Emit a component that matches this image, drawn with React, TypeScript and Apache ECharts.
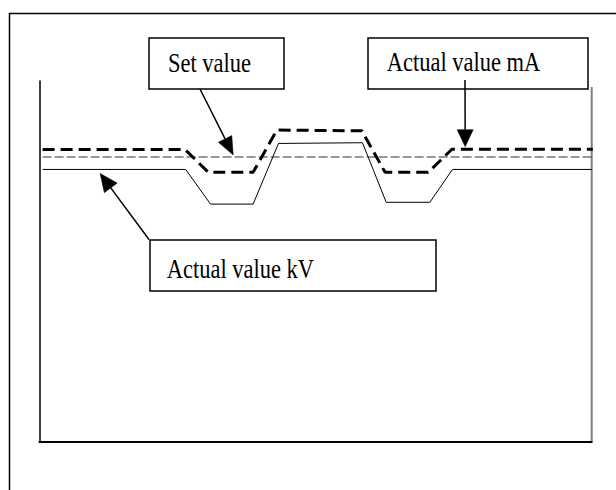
import React, { useEffect, useRef } from "react";
import * as echarts from "echarts";

// Time axis (0..100 % of run) and signal level (0..100 % of plot height)
const setValueX = [0.6, 100];
const setValueY = [78.95, 78.95];

const actualMaX = [0.6, 26.4, 30.6, 38.7, 43.0, 58.4, 62.6, 70.4, 74.7, 100.2];
const actualMaY = [81.0, 81.0, 74.7, 74.7, 86.4, 86.2, 74.7, 74.7, 81.1, 81.1];

const actualKvX = [0.6, 26.5, 31.0, 38.7, 43.3, 58.5, 62.8, 70.7, 74.8, 100];
const actualKvY = [75.5, 75.5, 65.9, 65.9, 82.7, 82.9, 66.4, 66.4, 75.5, 75.5];

const labels = ["Set value", "Actual value mA", "Actual value kV"];
// arrow tips in data coordinates
const arrowTips = [
  [35.1, 79.5],
  [77.1, 81.8],
  [11.0, 74.4],
];

const zip = (xs: number[], ys: number[]) => xs.map((x, i) => [x, ys[i]]);

const FONT = '"Liberation Serif", "Times New Roman", serif';

export default function App() {
  const ref = useRef<HTMLDivElement>(null);
  useEffect(() => {
    document.body.style.margin = "0";
    const chart = echarts.init(ref.current!, null, { renderer: "svg" });
    chart.setOption({
      animation: false,
      backgroundColor: "#ffffff",
      grid: { left: 39.3, right: 24.3, top: 81, bottom: 48 },
      xAxis: {
        type: "value",
        min: 0,
        max: 100,
        axisLine: { show: true, lineStyle: { color: "#000", width: 2 } },
        axisTick: { show: false },
        axisLabel: { show: false },
        splitLine: { show: false },
      },
      yAxis: {
        type: "value",
        min: 0,
        max: 100,
        axisLine: { show: true, lineStyle: { color: "#000", width: 1.5 } },
        axisTick: { show: false },
        axisLabel: { show: false },
        splitLine: { show: false },
      },
      series: [
        {
          name: labels[0],
          type: "line",
          data: zip(setValueX, setValueY),
          symbol: "none",
          clip: false,
          lineStyle: { color: "#333", width: 1, type: [9, 3] },
        },
        {
          name: labels[2],
          type: "line",
          data: zip(actualKvX, actualKvY),
          symbol: "none",
          clip: false,
          lineStyle: { color: "#000", width: 1 },
        },
        {
          name: labels[1],
          type: "line",
          data: zip(actualMaX, actualMaY),
          symbol: "none",
          clip: false,
          lineStyle: { color: "#000", width: 3, type: [12, 6] },
        },
      ],
    });

    const px = (p: number[]) => chart.convertToPixel({ gridIndex: 0 }, p) as number[];
    const arrow = (from: number[], to: number[], len = 17, hw = 8) => {
      const dx = to[0] - from[0];
      const dy = to[1] - from[1];
      const d = Math.hypot(dx, dy);
      const ux = dx / d;
      const uy = dy / d;
      const bx = to[0] - ux * len;
      const by = to[1] - uy * len;
      const nx = -uy;
      const ny = ux;
      return [
        {
          type: "line",
          z: 100,
          shape: { x1: from[0], y1: from[1], x2: bx, y2: by },
          style: { stroke: "#000", lineWidth: 1.5 },
        },
        {
          type: "polygon",
          z: 100,
          shape: {
            points: [
              [to[0], to[1]],
              [bx + nx * hw, by + ny * hw],
              [bx - nx * hw, by - ny * hw],
            ],
          },
          style: { fill: "#000", stroke: "#000", lineWidth: 0.5 },
        },
      ];
    };

    const topRight = px([100, 100]);
    const bottomRight = px([100, 0]);

    const box = (x: number, y: number, w: number, h: number) => ({
      type: "rect",
      z: 90,
      shape: { x, y, width: w, height: h },
      style: { fill: "#fff", stroke: "#000", lineWidth: 1.5 },
    });
    const text = (t: string, x: number, y: number) => ({
      type: "text",
      z: 95,
      x,
      y,
      scaleY: 1.18,
      style: {
        text: t,
        fontSize: 22.5,
        fontFamily: FONT,
        fill: "#000",
        align: "left",
        verticalAlign: "middle",
      },
    });

    chart.setOption({
      graphic: {
        elements: [
          {
            type: "line",
            shape: { x1: 9, y1: 13.5, x2: 616, y2: 13.5 },
            style: { stroke: "#000", lineWidth: 1.5 },
          },
          {
            type: "line",
            shape: { x1: 9.5, y1: 13, x2: 9.5, y2: 490 },
            style: { stroke: "#000", lineWidth: 1.5 },
          },
          {
            type: "line",
            shape: { x1: topRight[0], y1: 87, x2: bottomRight[0], y2: bottomRight[1] },
            style: { stroke: "#808080", lineWidth: 2 },
          },
          box(149, 38, 135, 51),
          box(368, 38, 220, 51),
          box(150, 240, 286, 51),
          text(labels[0], 168, 62.5),
          text(labels[1], 386.7, 62.2),
          text(labels[2], 166.7, 269),
          ...arrow([200, 89], px(arrowTips[0]), 18, 7.5),
          ...arrow([465, 80], px(arrowTips[1]), 17, 8),
          ...arrow([149, 239.5], px(arrowTips[2]), 18, 8),
        ],
      },
    });
    return () => chart.dispose();
  }, []);
  return <div ref={ref} style={{ width: 616, height: 490 }} />;
}
